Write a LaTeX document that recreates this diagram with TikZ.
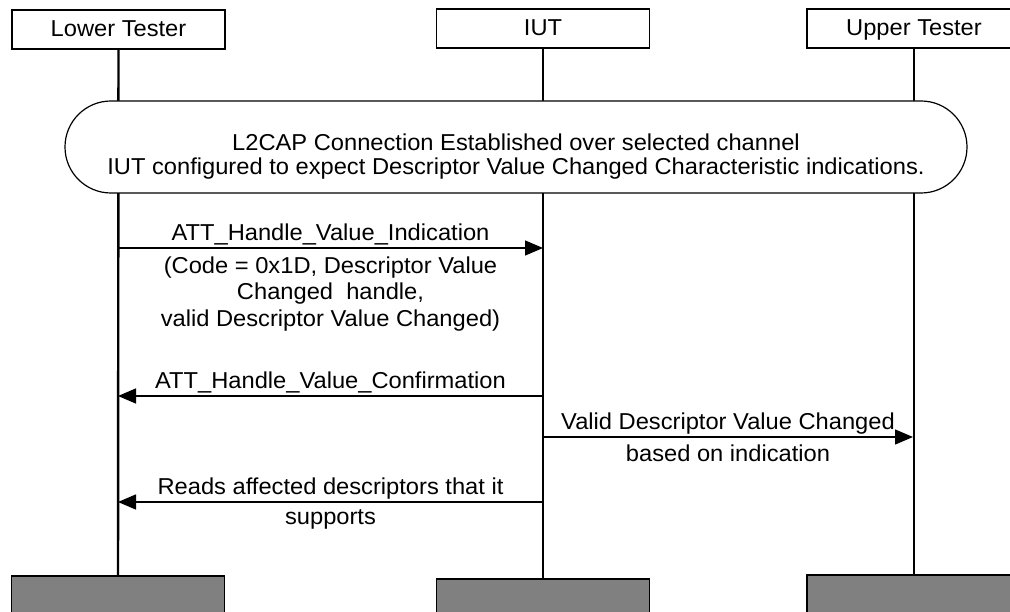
\documentclass[tikz,border=0pt]{standalone}
\usepackage{fontspec}
\setmainfont{Liberation Sans}[FakeStretch=1.03]
\usepackage{tikz}
\usetikzlibrary{arrows.meta, positioning}

\begin{document}
\begin{tikzpicture}[
        x=1pt, y=-1pt,
        every node/.style={font=\fontsize{23}{26.5}\selectfont},
        box/.style={rectangle, draw, line width=1.2pt, minimum height=39pt, minimum width=213pt, text height=17pt, text depth=3pt},
        endbox/.style={rectangle, draw, line width=1.2pt, fill=gray, minimum height=40pt, minimum width=213pt},
        life/.style={line width=2.4pt},
        arrow/.style={line width=1.5pt, -{Triangle[length=18pt, width=15pt]}},
        msg/.style={align=center, inner sep=2pt}
    ]
        \clip (0,0) rectangle (1010,612);
        \node[box] (LT) at (118.5,29.5) {Lower Tester};
        \node[box] (IUT) at (543,28.5) {IUT};
        \node[box, minimum width=214pt] (UT) at (914,28.5) {Upper Tester};
        \node[endbox] (LTend) at (118,596) {};
        \node[endbox] (IUTend) at (543,599) {};
        \node[endbox, minimum width=214pt] (UTend) at (914,595) {};
        \draw[life] (LT) -- (LTend);
        \draw[life] (IUT) -- (IUTend);
        \draw[life] (UT) -- (UTend);
        \node[draw, fill=white, line width=1.2pt, rounded corners=45.9pt, minimum width=902pt, minimum height=92pt, align=center,
            font=\fontsize{23}{24.5}\selectfont, text height=61pt, text depth=5pt] (setup) at (516,147)
            {L2CAP Connection Established over selected channel\\IUT configured to expect Descriptor Value Changed Characteristic indications.};
        % messages
        \coordinate (lt1) at (118,248);
        \coordinate (iut1) at (543,248);
        \coordinate (lt2) at (118,396);
        \coordinate (iut2) at (543,396);
        \coordinate (iut3) at (543,437);
        \coordinate (ut3) at (913,437);
        \coordinate (lt4) at (118,502);
        \coordinate (iut4) at (543,502);
        \draw[arrow] (lt1) -- (iut1)
            node[msg, midway, above] (ind) {ATT\_Handle\_Value\_Indication}
            node[msg, midway, below=6pt] (indpar) {(Code = 0x1D, Descriptor Value\\Changed\ \ handle,\\valid Descriptor Value Changed)};
        \draw[arrow] (iut2) -- (lt2) node[msg, midway, above] (conf) {ATT\_Handle\_Value\_Confirmation};
        \draw[arrow] (iut3) -- (ut3)
            node[msg, midway, above] (valid) {Valid Descriptor Value Changed}
            node[msg, midway, below=5pt] (based) {based on indication};
        \draw[arrow] (iut4) -- (lt4)
            node[msg, midway, above] (reads) {Reads affected descriptors that it}
            node[msg, midway, below=5pt] (supp) {supports};
    \end{tikzpicture}
\end{document}
